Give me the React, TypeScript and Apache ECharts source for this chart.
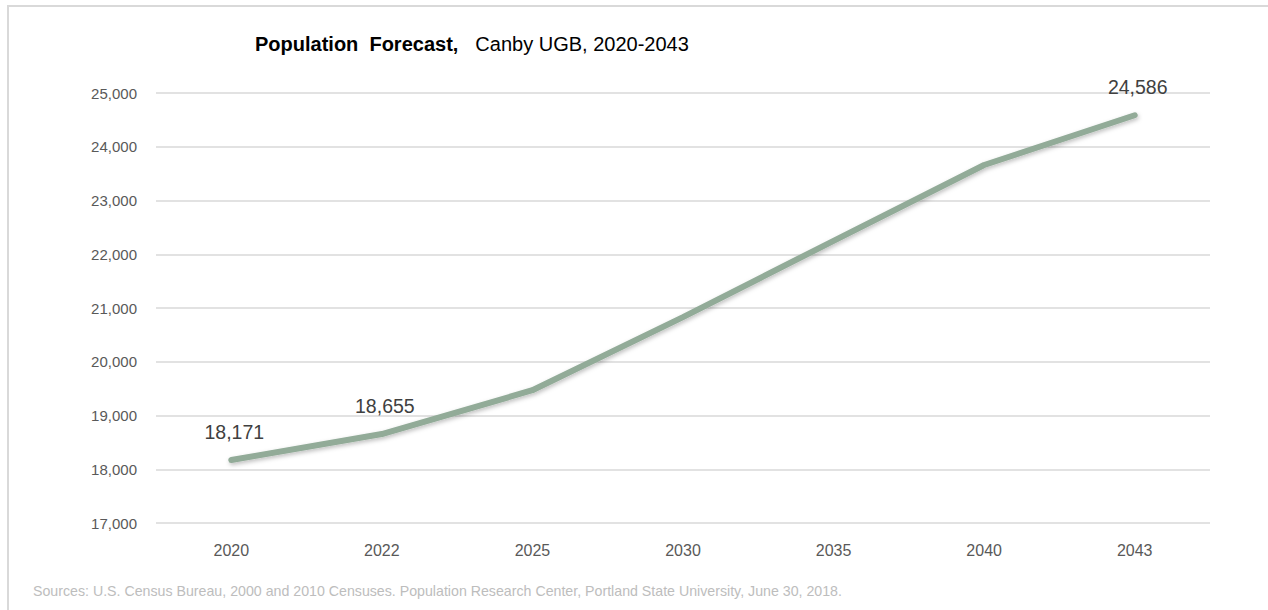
import React, { useEffect, useRef } from "react";
import * as echarts from "echarts";

const years = ["2020", "2022", "2025", "2030", "2035", "2040", "2043"];
const population = [18171, 18655, 19470, 20830, 22250, 23660, 24586];
const labelledYears = ["2020", "2022", "2043"];
const titleBold = "Population  Forecast,";
const titleRest = "Canby UGB, 2020-2043";
const sourceNote =
  "Sources: U.S. Census Bureau, 2000 and 2010 Censuses. Population Research Center, Portland State University, June 30, 2018.";

const FONT = "Liberation Sans, Arial, sans-serif";

export default function App() {
  const ref = useRef<HTMLDivElement>(null);
  useEffect(() => {
    if (!ref.current) return;
    const chart = echarts.init(ref.current, undefined, { renderer: "svg" });
    chart.setOption({
      animation: false,
      backgroundColor: "#ffffff",
      title: {
        text: `{b|${titleBold}}{s|}{n|${titleRest}}`,
        left: 250,
        top: 29,
        textStyle: {
          rich: {
            b: { fontFamily: FONT, fontWeight: "bold", fontSize: 20, color: "#000000" },
            s: { width: 17 },
            n: { fontFamily: FONT, fontWeight: "normal", fontSize: 20, color: "#000000" },
          },
        },
      },
      graphic: [
        {
          type: "rect",
          shape: { x: 8, y: 6, width: 1400, height: 800 },
          style: { fill: "none", stroke: "#d9d9d9", lineWidth: 2 },
          silent: true,
        },
        {
          type: "text",
          x: 33,
          y: 591,
          style: {
            text: sourceNote,
            fontFamily: "Liberation Sans Narrow, Arial Narrow, " + FONT,
            fontSize: 14.2,
            fill: "#bdbdbd",
            textVerticalAlign: "middle",
          },
        },
      ],
      grid: { left: 156, right: 58, top: 93, bottom: 87 },
      xAxis: {
        type: "category",
        data: years,
        boundaryGap: true,
        axisLine: { show: false },
        axisTick: { show: false },
        axisLabel: {
          fontFamily: FONT,
          fontSize: 16,
          color: "#595959",
          margin: 19,
        },
      },
      yAxis: {
        type: "value",
        min: 17000,
        max: 25000,
        interval: 1000,
        axisLine: { show: false },
        axisTick: { show: false },
        splitLine: { lineStyle: { color: "#d9d9d9", width: 1.5 } },
        axisLabel: {
          fontFamily: FONT,
          fontSize: 15,
          color: "#595959",
          margin: 19,
          formatter: (v: number) => v.toLocaleString("en-US"),
        },
      },
      series: [
        {
          type: "line",
          data: population.map((v, i) => ({
            value: v,
            label: { show: labelledYears.includes(years[i]) },
          })),
          symbol: "circle",
          symbolSize: 1,
          showSymbol: true,
          itemStyle: { color: "rgba(0,0,0,0)", borderWidth: 0 },
          label: {
            show: false,
            position: "top",
            distance: 18,
            offset: [3, 0],
            formatter: (p: any) => Number(p.value).toLocaleString("en-US"),
            fontFamily: FONT,
            fontSize: 19.5,
            color: "#404040",
          },
          lineStyle: {
            color: "#92ab98",
            width: 6,
            cap: "round",
            shadowColor: "rgba(0,0,0,0.25)",
            shadowBlur: 4,
            shadowOffsetX: 1,
            shadowOffsetY: 2,
          },
        },
      ],
    });
    return () => chart.dispose();
  }, []);
  return (
    <div
      ref={ref}
      style={{ position: "fixed", left: 0, top: 0, width: 1268, height: 610 }}
    />
  );
}
